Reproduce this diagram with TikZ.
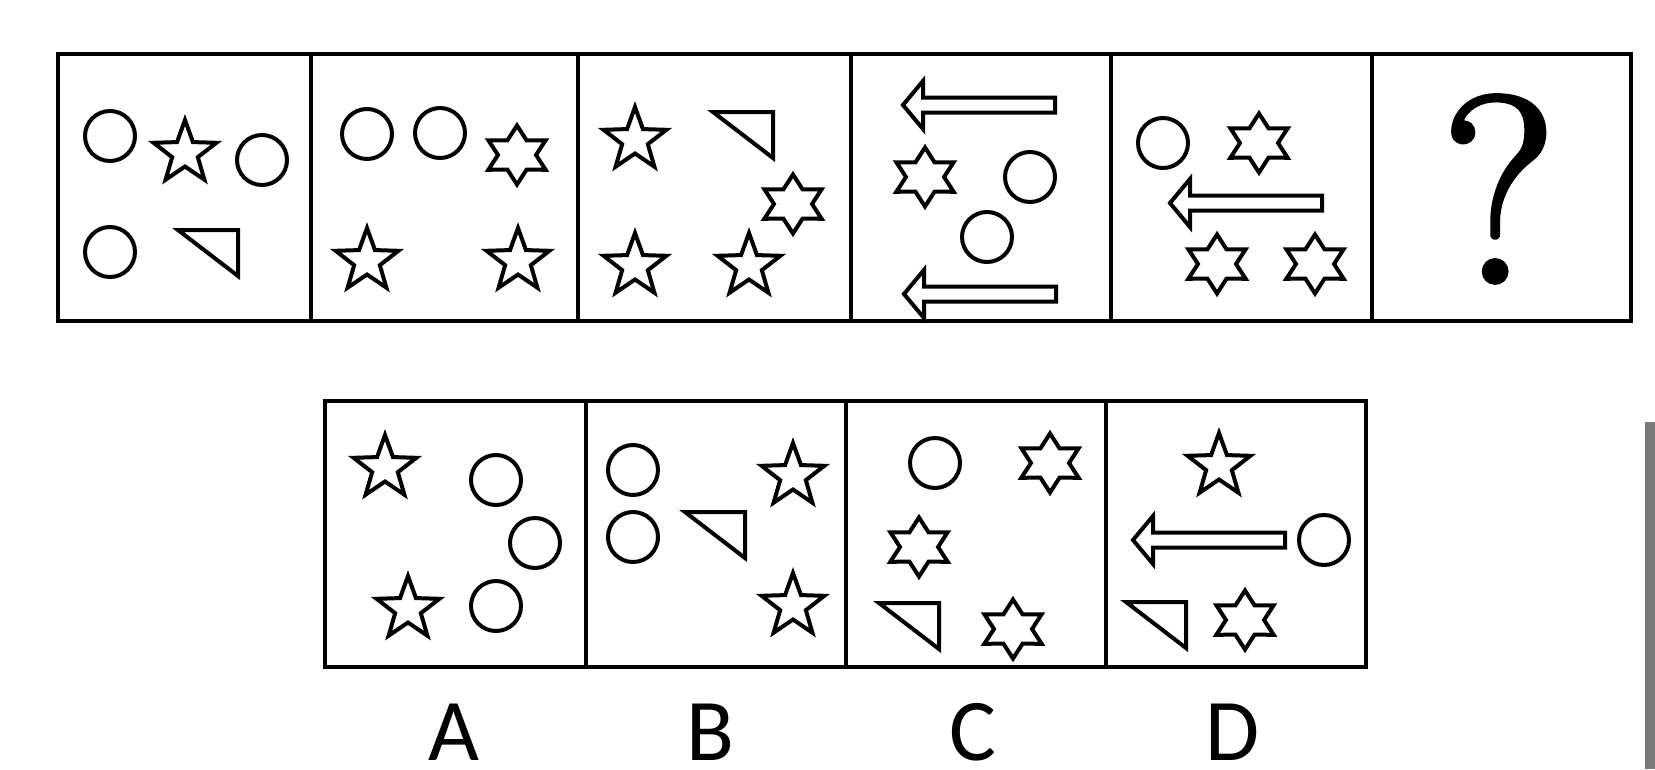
\documentclass[tikz,border=0pt]{standalone}
\usepackage{fontspec}
\newfontfamily\labelfont{Carlito}
\begin{document}
\begin{tikzpicture}[x=1pt,y=-1pt,
  boxline/.style={line width=4.5pt, draw=black, line join=miter},
  shp/.style={line width=4pt, draw=black, fill=white, line join=miter, miter limit=10},
  pics/starfive/.style={code={
    \draw[shp] (-90:33) \foreach \k in {0,...,3}{ -- ({-54+72*\k}:13.5) -- ({-18+72*\k}:33) } -- (234:13.5) -- cycle;
  }},
  pics/hexstar/.style={code={
    \draw[shp,xscale=1.12] (-90:29.5) \foreach \k in {0,...,4}{ -- ({-60+60*\k}:17) -- ({-30+60*\k}:29.5) } -- (240:17) -- cycle;
  }},
  pics/wedge/.style={code={
    \draw[shp] (-60,0) -- (0,0) -- (0,46) -- cycle;
  }},
  pics/leftarrow/.style={code={
    \draw[shp] (0,0) -- (20,-24) -- (20,-7.5) -- (152,-7.5) -- (152,7.5) -- (20,7.5) -- (20,24) -- cycle;
  }},
  ring/.style={shp},
  lbl/.style={font=\labelfont\fontsize{88}{88}\selectfont, inner sep=0pt, anchor=center}
]
\useasboundingbox (0,0) rectangle (1655,769);

% top row frame
\draw[boxline] (58,54) rectangle (1631,321);
\foreach \x in {311,578,851,1111,1372} \draw[boxline] (\x,54) -- (\x,321);

% bottom row frame
\draw[boxline] (325,401) rectangle (1366,667);
\foreach \x in {586,846,1106} \draw[boxline] (\x,401) -- (\x,667);

% cell 1
\draw[ring] (110,136) circle[radius=25];
\draw[ring] (262,160) circle[radius=25];
\draw[ring] (110,252) circle[radius=25];
\pic at (185,153) {starfive};
\pic at (238,230) {wedge};

% cell 2
\draw[ring] (367,134) circle[radius=25];
\draw[ring] (440,133) circle[radius=25];
\pic at (517,155) {hexstar};
\pic at (367,261) {starfive};
\pic at (518,261) {starfive};

% cell 3
\pic at (635,140) {starfive};
\pic at (773,112) {wedge};
\pic at (793,204) {hexstar};
\pic at (635,266) {starfive};
\pic at (749,266) {starfive};

% cell 4
\pic at (903,105) {leftarrow};
\pic at (925,177) {hexstar};
\draw[ring] (1030,177) circle[radius=25];
\draw[ring] (987,237) circle[radius=25];
\pic at (904,294) {leftarrow};

% cell 5
\draw[ring] (1163,143) circle[radius=25];
\pic at (1259,143) {hexstar};
\pic at (1170,203) {leftarrow};
\pic at (1217,264) {hexstar};
\pic at (1315,264) {hexstar};

% cell 6
\node[inner sep=0pt, font=\fontsize{266}{266}\selectfont] (qm) at (1499,189)
  {\special{pdf:literal direct 2 Tr 5 w 1 j}?\special{pdf:literal direct 0 Tr}};

% option A
\pic at (385,468) {starfive};
\draw[ring] (496,480) circle[radius=25];
\draw[ring] (535,543) circle[radius=25];
\pic at (408,609) {starfive};
\draw[ring] (496,606) circle[radius=25];

% option B
\draw[ring] (633,470) circle[radius=25];
\draw[ring] (633,537) circle[radius=25];
\pic at (745,512) {wedge};
\pic at (793,476) {starfive};
\pic at (793,606) {starfive};

% option C
\draw[ring] (935,463) circle[radius=25];
\pic at (1050,463) {hexstar};
\pic at (919,547) {hexstar};
\pic at (939,603) {wedge};
\pic at (1013,629) {hexstar};

% option D
\pic at (1219,466) {starfive};
\pic at (1133,540) {leftarrow};
\draw[ring] (1324,540) circle[radius=25];
\pic at (1186,602) {wedge};
\pic at (1245,620) {hexstar};

% labels
\node[lbl] (la) at (454,732) {A};
\node[lbl] (lb) at (710,732) {B};
\node[lbl] (lc) at (973,732) {C};
\node[lbl] (ld) at (1233,732) {D};

% grey bar at the right edge
\fill[fill={rgb,255:red,122;green,122;blue,122}] (1645,422) rectangle (1655,769);
\end{tikzpicture}
\end{document}
